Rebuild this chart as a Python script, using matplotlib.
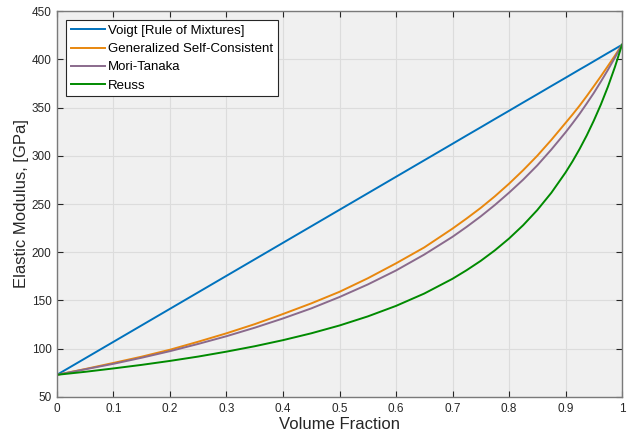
import matplotlib

matplotlib.use("Agg")

import matplotlib.pyplot as plt

plt.rcParams["font.family"] = ["Liberation Sans", "DejaVu Sans"]

# volume fraction samples
vf = [0.0, 0.05, 0.1, 0.15, 0.2, 0.25, 0.3, 0.35, 0.4, 0.45, 0.5, 0.55, 0.6, 0.65,
      0.7, 0.725, 0.75, 0.775, 0.8, 0.825, 0.85, 0.875, 0.9,
      0.9125, 0.925, 0.9375, 0.95, 0.9625, 0.975, 0.9875, 1.0]

voigt = [73.0, 90.1, 107.2, 124.3, 141.4, 158.5, 175.6, 192.7, 209.8, 226.9, 244.0, 261.1, 278.2, 295.3,
         312.4, 321.0, 329.5, 338.1, 346.6, 355.2, 363.7, 372.3, 380.8,
         385.1, 389.4, 393.6, 397.9, 402.2, 406.5, 410.7, 415.0]

gsc = [73.0, 79.0, 85.3, 91.8, 99.0, 107.3, 116.0, 125.5, 136.0, 147.0, 159.0, 173.0, 188.5, 205.0,
       224.5, 235.0, 246.0, 258.0, 271.0, 285.0, 300.0, 316.5, 334.0,
       342.8, 352.0, 361.8, 372.0, 382.3, 393.0, 403.8, 415.0]

mori_tanaka = [73.0, 78.7, 84.4, 90.7, 97.5, 105.0, 113.0, 121.8, 131.4, 141.8, 153.6, 166.6, 181.1, 197.6,
               216.0, 226.3, 237.2, 249.0, 261.7, 275.2, 290.0, 306.5, 324.2,
               333.7, 343.5, 354.1, 365.0, 376.8, 389.0, 401.8, 415.0]

reuss = [73.0, 76.1, 79.6, 83.3, 87.4, 91.9, 97.0, 102.6, 108.9, 116.0, 124.1, 133.5, 144.4, 157.2,
         172.5, 181.4, 191.1, 202.0, 214.2, 228.0, 243.7, 261.7, 282.6,
         294.3, 307.1, 321.0, 336.3, 353.0, 371.5, 392.1, 415.0]

series = [
    ("Voigt [Rule of Mixtures]", voigt, "#0072bd"),
    ("Generalized Self-Consistent", gsc, "#e8870e"),
    ("Mori-Tanaka", mori_tanaka, "#8a6a8c"),
    ("Reuss", reuss, "#008a00"),
]

fig = plt.figure(figsize=(6.29, 4.41), dpi=100)
ax = fig.add_axes([0.0906, 0.0998, 0.8983, 0.8752])
ax.set_facecolor("#f0f0f0")

for label, values, color in series:
    ax.plot(vf, values, label=label, color=color, linewidth=1.4)

ax.set_xlim(0, 1)
ax.set_ylim(50, 450)
ax.set_xticks([i / 10 for i in range(11)])
ax.set_xticklabels(["0", "0.1", "0.2", "0.3", "0.4", "0.5", "0.6", "0.7", "0.8", "0.9", "1"])
ax.set_yticks(range(50, 451, 50))

ax.grid(True, color="#dcdcdc", linewidth=0.8)
ax.set_axisbelow(True)
ax.tick_params(direction="in", top=True, right=True, length=4, width=0.8,
               colors="#262626", labelsize=8.5, pad=4)
for spine in ax.spines.values():
    spine.set_color("#7a7a7a")
    spine.set_linewidth(1.0)

ax.set_xlabel("Volume Fraction", fontsize=12, color="#262626", labelpad=2)
ax.set_ylabel("Elastic Modulus, [GPa]", fontsize=12, color="#262626", labelpad=2)

leg = ax.legend(loc="upper left", fontsize=9.5, fancybox=False, framealpha=1,
                edgecolor="#262626", handlelength=2.6, handletextpad=0.2,
                borderaxespad=0.7, labelspacing=0.45, borderpad=0.35)
leg.get_frame().set_linewidth(0.8)

fig.savefig("out.png", dpi=100)
